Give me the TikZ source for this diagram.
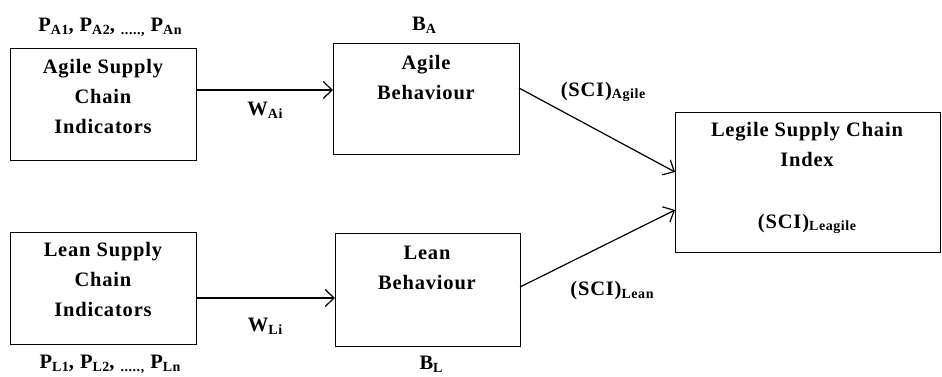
\documentclass[tikz,border=0pt]{standalone}
\usepackage{fontspec}
\setmainfont{Liberation Serif}[LetterSpace=4]
\usetikzlibrary{arrows.meta}
\newcommand{\sbs}[1]{\raisebox{-0.3ex}{\fontsize{14}{14}\selectfont #1}}
\begin{document}
\begin{tikzpicture}[x=1pt,y=-1pt,
  box/.style={draw,line width=1.3pt,inner sep=0pt,anchor=north west},
  txt/.style={font=\fontsize{20.5}{30}\selectfont\bfseries,align=center,inner sep=0pt},
  conn/.style={line width=1.2pt,-{Straight Barb[length=9pt,width=17pt,line width=1.2pt]}}]
\useasboundingbox (0,0) rectangle (942,376);
% boxes
\node[box,minimum width=186pt,minimum height=112pt] (ai) at (10,48) {};
\node[box,minimum width=186pt,minimum height=111pt] (ab) at (333,43) {};
\node[box,minimum width=186pt,minimum height=112pt] (li) at (10,232) {};
\node[box,minimum width=185pt,minimum height=113pt] (lb) at (335,233) {};
\node[box,minimum width=265pt,minimum height=140pt] (lg) at (675,112) {};
% texts in boxes
\node[txt,anchor=north] (aitxt) at (103,59) {Agile Supply\\Chain\\Indicators};
\node[txt,anchor=north] (abtxt) at (426,55) {Agile\\Behaviour};
\node[txt,anchor=north] (litxt) at (103,242) {Lean Supply\\Chain\\Indicators};
\node[txt,anchor=north] (lbtxt) at (427,246) {Lean\\Behaviour};
\node[txt,anchor=north] (lgtxt) at (807,122) {Legile Supply Chain\\Index};
\node[txt] (lgsci) at (807,224) {(SCI)\sbs{Leagile}};
% outer labels
\node[txt] (pa) at (110,27) {P\sbs{A1}, P\sbs{A2}, \sbs{.....,} P\sbs{An}};
\node[txt] (pl) at (110,364) {P\sbs{L1}, P\sbs{L2}, \sbs{.....,} P\sbs{Ln}};
\node[txt] (ba) at (424,25) {B\sbs{A}};
\node[txt] (bl) at (431,364) {B\sbs{L}};
\node[txt] (wa) at (265,110) {W\sbs{Ai}};
\node[txt] (wl) at (265,326) {W\sbs{Li}};
\node[txt] (sa) at (603,92) {(SCI)\sbs{Agile}};
\node[txt] (sl) at (612,291) {(SCI)\sbs{Lean}};
% connectors
\coordinate (ae) at (ab.west |- 0,90);
\coordinate (le) at (lb.west |- 0,298);
\draw[conn] (ai.east |- ae) -- (ae);
\draw[conn] (li.east |- le) -- (le);
\coordinate (a1) at (519,88);
\coordinate (a2) at (675,172);
\coordinate (l1) at (520,287);
\coordinate (l2) at (675,210);
\draw[conn] (a1) -- (a2);
\draw[conn] (l1) -- (l2);
\end{tikzpicture}
\end{document}
